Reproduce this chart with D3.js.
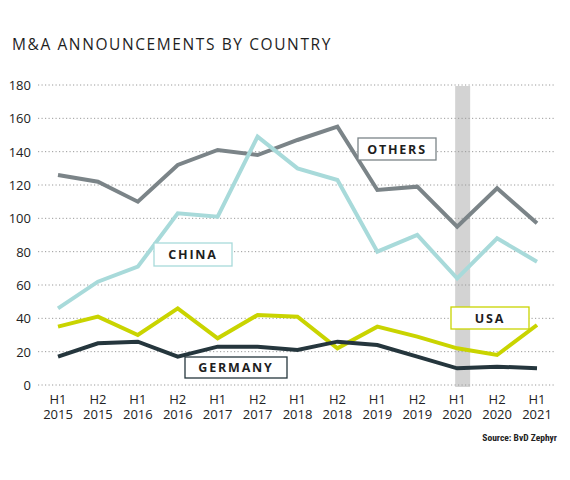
<!DOCTYPE html>
<html><head><meta charset="utf-8">
<script src="https://cdn.jsdelivr.net/npm/d3@7"></script>
<style>body{margin:0;background:#fff}svg{display:block}</style>
</head><body>
<svg id="c" width="570" height="480"></svg>
<script>
const halves  = ["H1","H2","H1","H2","H1","H2","H1","H2","H1","H2","H1","H2","H1"];
const years   = ["2015","2015","2016","2016","2017","2017","2018","2018","2019","2019","2020","2020","2021"];
const others  = [126,122,110,132,141,138,147,155,117,119,95,118,97];
const china   = [46,62,71,103,101,149,130,123,80,90,64,88,74];
const usa     = [35,41,30,46,28,42,41,22,35,29,22,18,36];
const germany = [17,25,26,17,23,23,21,26,24,17,10,11,10];
const yTicks  = [0,20,40,60,80,100,120,140,160,180];
const highlightIndex = 10;

const svg = d3.select("#c");
const font = "'Open Sans', 'Noto Sans', sans-serif";
const x = d3.scalePoint().domain(d3.range(halves.length)).range([58, 537]);
const y = d3.scaleLinear().domain([0,180]).range([385, 85]);

svg.append("text").attr("x",12).attr("y",50).text("M&A ANNOUNCEMENTS BY COUNTRY")
  .attr("font-family",font).attr("font-size",15.5).attr("letter-spacing",1.6).attr("fill","#1e1e1e");

// highlight band
svg.append("rect").attr("x", x(highlightIndex)-2).attr("width",15)
  .attr("y", y(180)+1).attr("height", y(0)-y(180)+1).attr("fill","#d3d3d3");

// grid
svg.append("g").selectAll("line").data(yTicks).join("line")
  .attr("x1",38).attr("x2",556).attr("y1",d=>y(d)).attr("y2",d=>y(d))
  .attr("stroke","#9a9a9a").attr("stroke-width",1).attr("stroke-dasharray","1.2,2.3");

// y axis labels
const yAxis = d3.axisLeft(y).tickValues(yTicks).tickSize(0).tickPadding(0);
const gy = svg.append("g").attr("transform","translate(31,0)").call(yAxis);
gy.select(".domain").remove();
gy.selectAll("text").attr("font-family",font).attr("font-size",13).attr("fill","#222").attr("dy","0.35em");

// x axis labels (two rows)
svg.append("g").selectAll("text").data(halves).join("text")
  .attr("x",(d,i)=>x(i)).attr("y",404).attr("text-anchor","middle")
  .attr("font-family",font).attr("font-size",13).attr("fill","#222").text(d=>d);
svg.append("g").selectAll("text").data(years).join("text")
  .attr("x",(d,i)=>x(i)).attr("y",419).attr("text-anchor","middle")
  .attr("font-family",font).attr("font-size",13).attr("fill","#222").text(d=>d);

const line = d3.line().x((d,i)=>x(i)).y(d=>y(d));
const series = [
  {name:"OTHERS", data:others, color:"#7b8488", box:[358,138,78,22]},
  {name:"CHINA", data:china, color:"#a8dada", box:[154,243,78,23]},
  {name:"USA", data:usa, color:"#c9d400", box:[451,307,78,22]},
  {name:"GERMANY", data:germany, color:"#25363d", box:[185,357,102,21]}
];
series.forEach(s=>{
  svg.append("path").datum(s.data).attr("d",line).attr("fill","none")
    .attr("stroke",s.color).attr("stroke-width",4).attr("stroke-linejoin","miter");
});
series.forEach(s=>{
  const [bx,by,bw,bh] = s.box;
  svg.append("rect").attr("x",bx).attr("y",by).attr("width",bw).attr("height",bh)
    .attr("fill","#fff").attr("stroke",s.color).attr("stroke-width",1.3);
  svg.append("text").attr("x",bx+bw/2).attr("y",by+bh/2+4.5).attr("text-anchor","middle")
    .attr("font-family",font).attr("font-weight","bold").attr("font-size",12.5)
    .attr("letter-spacing",1.8).attr("fill","#1e1e1e").text(s.name);
});

svg.append("text").attr("x",557).attr("y",441).attr("text-anchor","end")
  .attr("font-family","'Liberation Sans Narrow','Roboto Condensed',"+font).attr("font-size",9.5).attr("font-weight","bold")
  .attr("fill","#222").text("Source: BvD Zephyr");
</script>
</body></html>
